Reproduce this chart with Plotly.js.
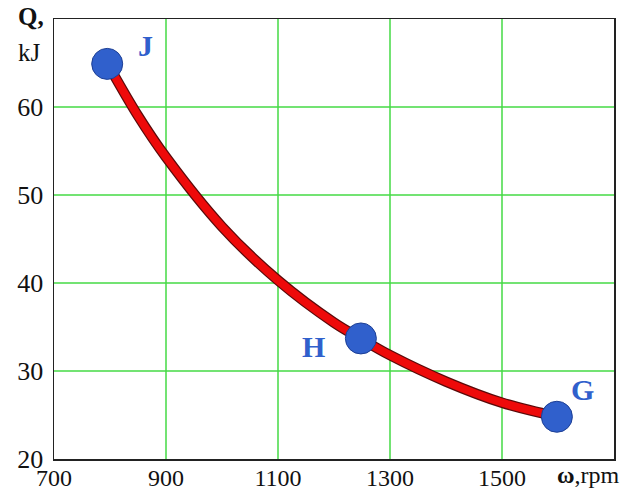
<!DOCTYPE html>
<html>
<head>
<meta charset="utf-8">
<script src="https://cdn.plot.ly/plotly-3.0.1.min.js"></script>
<style>
html,body{margin:0;padding:0;background:#fff;}
#chart{width:627px;height:490px;}
</style>
</head>
<body>
<div id="chart"></div>
<script>
// Curve Q(ω)
const curveOmega = [795, 850, 900, 1000, 1100, 1200, 1250, 1300, 1400, 1500, 1600];
const curveQ     = [65, 59.0, 54.3, 46.4, 40.3, 35.5, 33.6, 31.8, 28.8, 26.4, 24.8];
// Labelled points
const pointNames = ['J', 'H', 'G'];
const pointOmega = [795, 1248, 1598];
const pointQ     = [64.9, 33.7, 24.8];
// Ticks
const xTicks = [700, 900, 1100, 1300, 1500];
const yTicks = [20, 30, 40, 50, 60];
const xGrid = [900, 1100, 1300, 1500];
const yGrid = [30, 40, 50, 60];

const serif = 'Liberation Serif, Times New Roman, serif';
const blue = '#3060cc';

const traces = [
  {x: curveOmega, y: curveQ, mode: 'lines', line: {color: '#5a0a0a', width: 10.5, shape: 'spline', smoothing: 1}, hoverinfo: 'skip', showlegend: false},
  {x: curveOmega, y: curveQ, mode: 'lines', line: {color: '#ee0a0a', width: 8, shape: 'spline', smoothing: 1}, hoverinfo: 'skip', showlegend: false},
  {x: pointOmega, y: pointQ, mode: 'markers', marker: {color: blue, size: 31, line: {color: '#1d3f95', width: 1}}, showlegend: false}
];

const labelOffsets = {J: [38, -18], H: [-47, 8], G: [26, -27]};
const annotations = pointNames.map((n, i) => ({
  x: pointOmega[i], y: pointQ[i], xref: 'x', yref: 'y', text: '<b>' + n + '</b>', showarrow: false,
  xshift: labelOffsets[n][0], yshift: -labelOffsets[n][1],
  font: {family: serif, size: 30, color: blue}
}));
annotations.push({xref: 'paper', yref: 'paper', x: 0, y: 1, xanchor: 'right', yanchor: 'middle', xshift: -8, yshift: 3,
  text: '<b>Q,</b>', showarrow: false, font: {family: serif, size: 25, color: '#111'}});
annotations.push({xref: 'paper', yref: 'paper', x: 0, y: 1, xanchor: 'right', yanchor: 'middle', xshift: -11, yshift: -33,
  text: 'kJ', showarrow: false, font: {family: serif, size: 25, color: '#111'}});
annotations.push({xref: 'paper', yref: 'paper', x: 1, y: 0, xanchor: 'right', yanchor: 'bottom', xshift: 8, yshift: -31,
  text: '<b>ω</b>,rpm', showarrow: false, font: {family: serif, size: 24, color: '#111'}});

const shapes = [];
xGrid.forEach(v => shapes.push({type: 'line', xref: 'x', yref: 'paper', x0: v, x1: v, y0: 0, y1: 1, line: {color: '#44da44', width: 1.5}, layer: 'below'}));
yGrid.forEach(v => shapes.push({type: 'line', xref: 'paper', yref: 'y', x0: 0, x1: 1, y0: v, y1: v, line: {color: '#44da44', width: 1.5}, layer: 'below'}));

const layout = {
  width: 627, height: 490,
  margin: {l: 54, r: 13, t: 19, b: 31, pad: 0},
  paper_bgcolor: '#fff', plot_bgcolor: '#fff',
  xaxis: {range: [700, 1700], tickvals: xTicks, ticktext: xTicks.map(String), showgrid: false, zeroline: false,
    showline: true, mirror: true, linecolor: '#222', linewidth: 1.5, ticks: '', ticklen: 0, ticklabelstandoff: -3,
    tickfont: {family: serif, size: 24, color: '#111'}},
  yaxis: {range: [20, 70], tickvals: yTicks, ticktext: yTicks.map(String), showgrid: false, zeroline: false,
    showline: true, mirror: true, linecolor: '#222', linewidth: 1.5, ticks: '', ticklen: 0, ticklabelstandoff: 4,
    tickfont: {family: serif, size: 26, color: '#111'}},
  shapes: shapes,
  annotations: annotations
};

Plotly.newPlot('chart', traces, layout, {displayModeBar: false, staticPlot: true});
</script>
</body>
</html>
